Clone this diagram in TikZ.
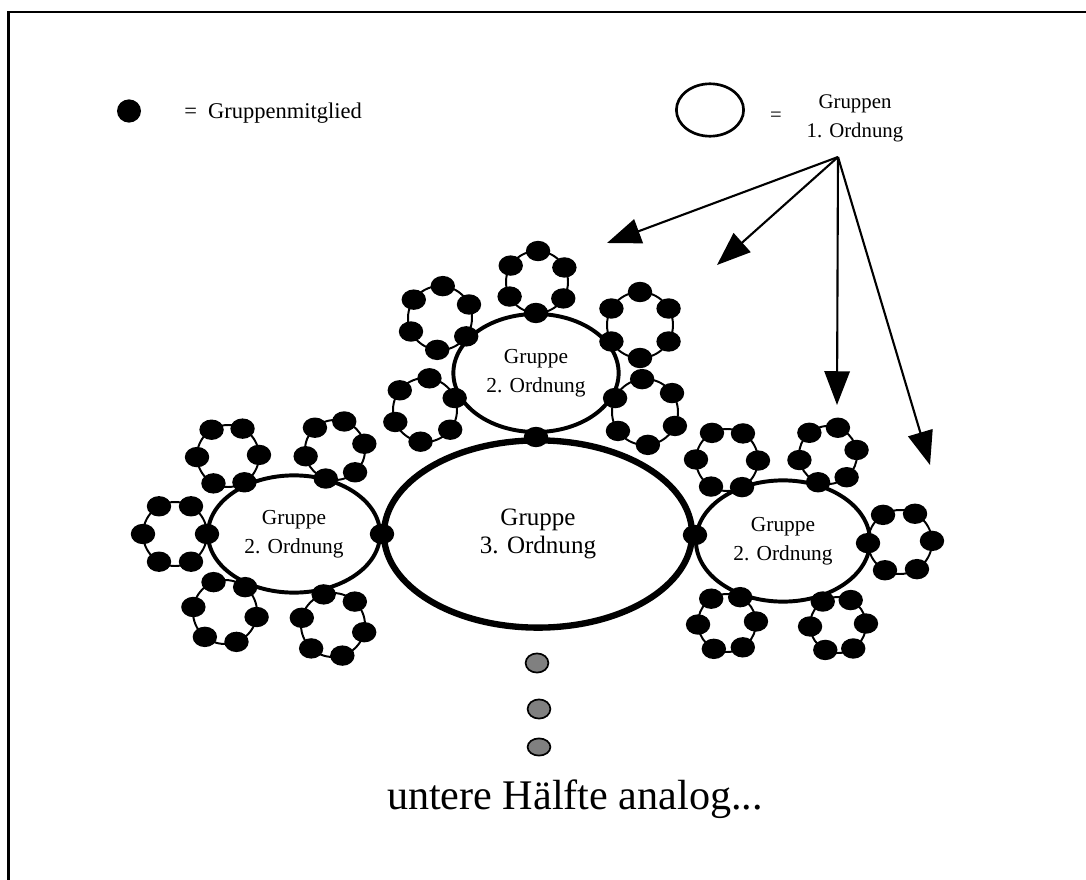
\documentclass[tikz,border=0pt]{standalone}
\usepackage{fontspec}
\setmainfont{Liberation Serif}
\usetikzlibrary{shapes.geometric,arrows.meta}

\begin{document}
\begin{tikzpicture}[x=0.025cm,y=-0.025cm,
    member/.style={ellipse,fill=black,minimum width=0.61cm,minimum height=0.51cm,inner sep=0pt},
    ringline/.style={line width=1.4pt},
    order/.style={ellipse,draw,line width=2.8pt,inner sep=0pt,align=center,font=\fontsize{15.2}{20.5}\selectfont},
    pointer/.style={-{Triangle[length=24pt,width=18pt]},line width=1.5pt},
    later/.style={ellipse,draw,fill=black!50,line width=1.2pt,minimum width=0.57cm,minimum height=0.48cm,inner sep=0pt}]
    % ring of six members: name, centre x, centre y, radius, angle of the shared member
    \def\ring#1#2#3#4#5{%
        \draw[ringline] (#2,#3) circle[radius=#4];
        \foreach \k in {0,...,5}
            \node[member] (#1-\k) at ({#2+#4*cos(#5+60*\k)},{#3+#4*sin(#5+60*\k)}) {};
    }
    \useasboundingbox (0,0) rectangle (1086,880);
    \draw[line width=2pt] (8.5,880) |- (1086,12);

    % legend
    \node[member,minimum width=0.6cm,minimum height=0.58cm] (legdot) at (129,111) {};
    \node[anchor=base west,inner sep=0pt,font=\fontsize{16}{19}\selectfont] (legdottext) at (184,119) {=\ \ Gruppenmitglied};
    \node[ellipse,draw,line width=1.9pt,minimum width=1.68cm,minimum height=1.31cm] (legring) at (710,110) {};
    \node[anchor=base,inner sep=0pt,font=\fontsize{14.7}{18}\selectfont] (legeq) at (776,122) {=};
    \node[align=center,inner sep=0pt,font=\fontsize{14.8}{20.6}\selectfont] (legringtext) at (855,118) {Gruppen\\1. Ordnung};

    \coordinate (src) at (838,157);
    \coordinate (tip1) at (607,243);
    \coordinate (tip2) at (717,265);
    \coordinate (tip3) at (837,405);
    \coordinate (tip4) at (930,465);
    \foreach \t in {1,...,4}
        \draw[pointer] (src) -- (tip\t);

    % groups of higher order
    \node[order,line width=4.5pt,minimum width=7.7cm,minimum height=4.68cm,font=\fontsize{17.8}{19.4}\selectfont] (third) at (538,534) {Gruppe\\3. Ordnung};
    \node[order,minimum width=4.13cm,minimum height=2.95cm] (topsec) at (536,373) {Gruppe\\2. Ordnung};
    \node[order,minimum width=4.3cm,minimum height=2.93cm] (leftsec) at (294,534) {Gruppe\\2. Ordnung};
    \node[order,minimum width=4.35cm,minimum height=3.03cm] (rightsec) at (783,541) {Gruppe\\2. Ordnung};

    \node[member] (jtop) at (536,437) {};
    \node[member] (jleft) at (382,534) {};
    \node[member] (jright) at (695,535) {};

    \ring{tA}{537}{282}{31}{92}
    \ring{tB}{440}{318}{32}{35}
    \ring{tC}{640}{325}{33}{150}
    \ring{tD}{425}{410}{32}{-22}
    \ring{tE}{645}{412}{33}{205}

    \ring{lA}{228}{456}{31}{58}
    \ring{lB}{335}{450}{30}{108}
    \ring{lC}{175}{534}{32}{0}
    \ring{lD}{225}{612}{32}{-51}
    \ring{lE}{333}{625}{32}{-107}

    \ring{rA}{727}{460}{31}{61}
    \ring{rB}{828}{455}{29}{110}
    \ring{rC}{900}{542}{32}{178}
    \ring{rD}{727}{623}{29}{-63}
    \ring{rE}{838}{625}{28}{-123}

    \node[later] (more1) at (537,663) {};
    \node[later] (more2) at (539,709) {};
    \node[later,minimum height=0.43cm] (more3) at (539,747) {};
    \node[anchor=base,font=\fontsize{30}{36}\selectfont] (rest) at (575,809) {untere Hälfte analog...};
\end{tikzpicture}
\end{document}
